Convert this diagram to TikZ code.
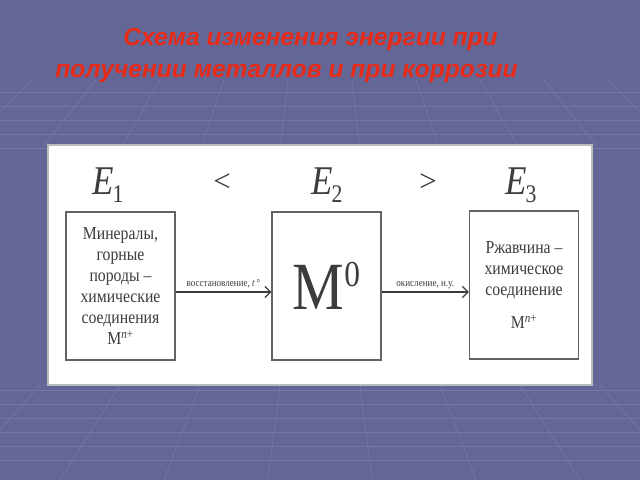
\documentclass[tikz,border=0pt]{standalone}
\usepackage{fontspec}
\setmainfont{Liberation Serif}
\newfontfamily\titlefont{Liberation Sans}
\newfontfamily\boxfont[FakeStretch=0.86]{Liberation Serif}
\usepackage{tikz}
\usetikzlibrary{arrows.meta,positioning}
\definecolor{slideblue}{RGB}{100,102,150}
\definecolor{gridblue}{RGB}{116,118,164}
\definecolor{titlered}{RGB}{232,42,24}
\definecolor{inkgray}{RGB}{60,60,60}
\definecolor{framegray}{RGB}{185,188,188}

\begin{document}
\begin{tikzpicture}[x=0.025cm,y=-0.025cm,
    heading/.style={anchor=base west,inner sep=0pt,text=titlered,font=\titlefont\fontsize{17.5}{19}\selectfont\bfseries\itshape},
    stage/.style={draw=inkgray!80,line width=0.9pt,fill=white,minimum width=2.72cm,minimum height=3.7cm,align=center,text=inkgray,font=\boxfont\fontsize{13}{15}\selectfont},
    elabel/.style={text=inkgray,inner sep=0pt,font=\boxfont\fontsize{29}{29}\selectfont},
    relation/.style={text=inkgray,inner sep=0pt,font=\fontsize{22}{22}\selectfont},
    steplabel/.style={above,text=inkgray,inner sep=2pt,font=\boxfont\fontsize{7.5}{8}\selectfont},
    flow/.style={-{Straight Barb[length=4pt,width=8pt]},line width=0.9pt,inkgray}]

    \useasboundingbox (0,0) rectangle (640,480);
    % slide background
    \begin{scope}
        \clip (0,0) rectangle (640,480);
        \fill[slideblue] (0,0) rectangle (640,480);
        \foreach \y in {92,106,120,134,148,390,404,418,432,446,460}
            \draw[gridblue,line width=0.5pt] (0,\y) -- (640,\y);
        \foreach \x in {-40,40,120,200,280,360,440,520,600,680}
            \draw[gridblue,line width=0.5pt] (\x,150) -- ({320+(\x-320)*0.8},80);
        \foreach \x in {-40,40,120,200,280,360,440,520,600,680}
            \draw[gridblue,line width=0.5pt] (\x,385) -- ({320+(\x-320)*1.3},480);
    \end{scope}

    % title
    \node[heading] (title1) at (123,45) {Схема изменения энергии при};
    \node[heading] (title2) at (55,77) {получении металлов и при коррозии};

    % white panel
    \draw[framegray,line width=2pt,fill=white] (48,145) rectangle (592,385);

    \node[elabel] (e1) at (108,185) {\textit{E}\kern-1pt\raisebox{-6pt}{\fontsize{18}{18}\selectfont 1}};
    \node[relation] (lt) at (222,183) {<};
    \node[elabel] (e2) at (327,185) {\textit{E}\kern-1pt\raisebox{-6pt}{\fontsize{18}{18}\selectfont 2}};
    \node[relation] (gt) at (428,183) {>};
    \node[elabel] (e3) at (521,185) {\textit{E}\kern-1pt\raisebox{-6pt}{\fontsize{18}{18}\selectfont 3}};

    \node[stage] (ore) at (120.5,286) {Минералы,\\горные\\породы –\\химические\\соединения\\M\textsuperscript{\textit{n}+}};
    \node[stage] (metal) at (326.5,286) {\fontsize{48}{48}\selectfont M\raisebox{16pt}{\fontsize{26}{26}\selectfont 0}};
    \node[stage] (rust) at (524,285) {Ржавчина –\\химическое\\соединение\\[9pt]M\textsuperscript{\textit{n}+}};

    \draw[flow] ([yshift=-0.15cm]ore.east) -- node[steplabel] {восстановление, \textit{t}\,°} ([yshift=-0.15cm]ore.east -| metal.west);
    \draw[flow] ([yshift=-0.15cm]metal.east) -- node[steplabel] {окисление, н.у.} ([yshift=-0.15cm]metal.east -| rust.west);
\end{tikzpicture}
\end{document}
